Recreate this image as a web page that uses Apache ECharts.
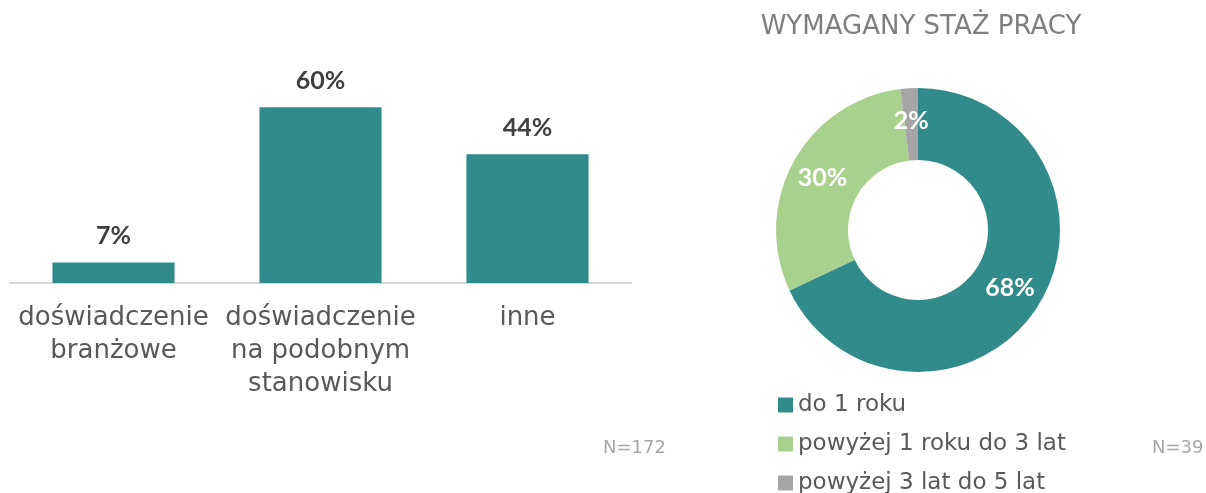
<!DOCTYPE html>
<html>
<head>
<meta charset="utf-8">
<script src="https://cdn.jsdelivr.net/npm/echarts@6/dist/echarts.min.js"></script>
<style>
  html, body { margin: 0; padding: 0; background: #fff; }
  #chart { width: 1206px; height: 493px; }
</style>
</head>
<body>
<div id="chart"></div>
<script>
// left: bar chart (N=172)
const barCategories = ['doświadczenie\nbranżowe', 'doświadczenie\nna podobnym\nstanowisku', 'inne'];
const barValues = [7, 60, 44];

// right: donut (N=39)
const pieNames = ['do 1 roku', 'powyżej 1 roku do 3 lat', 'powyżej 3 lat do 5 lat'];
const pieValues = [68, 30, 2];
const pieColors = ['#308b8a', '#a9d18e', '#a5a5a5'];

const teal = '#308b8a';
const catFont = '"DejaVu Sans", sans-serif';
const numFont = 'Lato, sans-serif';

const chart = echarts.init(document.getElementById('chart'));
chart.setOption({
  animation: false,
  grid: {
    left: 10,
    width: 621,
    top: 78,
    bottom: 210,
  },
  xAxis: {
    type: 'category',
    data: barCategories,
    axisTick: { show: false },
    axisLine: { lineStyle: { color: '#d9d9d9', width: 2 } },
    axisLabel: {
      interval: 0,
      margin: 19,
      color: '#595959',
      fontFamily: catFont,
      fontSize: 26,
      lineHeight: 33,
    },
  },
  yAxis: {
    type: 'value',
    min: 0,
    max: 70,
    show: false,
  },
  legend: {
    orient: 'vertical',
    left: 778,
    top: 392,
    height: 140,
    padding: 0,
    icon: 'rect',
    itemWidth: 15,
    itemHeight: 15,
    itemGap: 13,
    data: pieNames,
    textStyle: {
      color: '#595959',
      fontFamily: catFont,
      fontSize: 23,
      lineHeight: 26,
    },
  },
  graphic: [
    {
      type: 'text',
      x: 921,
      y: 27,
      style: {
        text: 'WYMAGANY STAŻ PRACY',
        fill: '#7f7f7f',
        font: '26px ' + catFont,
        align: 'center',
        verticalAlign: 'middle',
      },
    },
    {
      type: 'text',
      x: 603,
      y: 448,
      style: { text: 'N=172', fill: '#a6a6a6', font: '18px ' + catFont, verticalAlign: 'middle' },
    },
    {
      type: 'text',
      x: 1152,
      y: 448,
      style: { text: 'N=39', fill: '#a6a6a6', font: '18px ' + catFont, verticalAlign: 'middle' },
    },
  ],
  series: [
    {
      type: 'bar',
      data: barValues,
      barWidth: '59%',
      itemStyle: { color: teal },
      label: {
        show: true,
        position: 'top',
        distance: 14,
        formatter: '{c}%',
        color: '#404040',
        fontFamily: numFont,
        fontWeight: 'bold',
        fontSize: 25,
      },
    },
    {
      type: 'pie',
      center: [918, 230],
      radius: [70, 142],
      startAngle: 90,
      clockwise: true,
      data: pieNames.map((n, i) => ({ name: n, value: pieValues[i], itemStyle: { color: pieColors[i] } })),
      label: {
        show: true,
        position: 'inside',
        formatter: '{c}%',
        color: '#fff',
        fontFamily: numFont,
        fontWeight: 'bold',
        fontSize: 25,
      },
      labelLine: { show: false },
      emphasis: { disabled: true },
    },
  ],
});
</script>
</body>
</html>
